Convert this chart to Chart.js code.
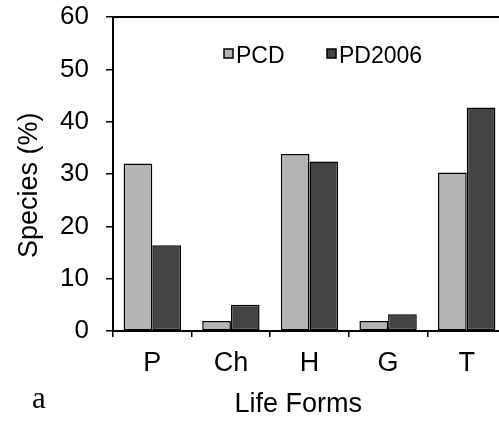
<!DOCTYPE html>
<html>
<head>
<meta charset="utf-8">
<script src="https://cdn.jsdelivr.net/npm/chart.js@4"></script>
<style>
  html, body { margin: 0; padding: 0; background: #fff; overflow: hidden; }
  #wrap { position: absolute; left: 0; top: 0; width: 512px; height: 421px; }
</style>
</head>
<body>
<div id="wrap"><canvas id="chart"></canvas></div>
<script>
// Lebensformen
const lifeForms = ["P", "Ch", "H", "G", "T"];
const pcdValues = [32.0, 1.9, 33.8, 1.9, 30.3];
const pd2006Values = [16.4, 5.0, 32.4, 3.2, 42.7];
const seriesNames = ["PCD", "PD2006"];
const seriesColors = ["#b4b4b4", "#444444"];

const font = "'Liberation Sans', Arial, sans-serif";

// Legende innen + obere Rahmenlinie + "a"
const extras = {
  id: "extras",
  afterDraw(chart) {
    const ctx = chart.ctx;
    const area = chart.chartArea;
    ctx.save();
    ctx.strokeStyle = "#000";
    ctx.lineWidth = 2;
    ctx.beginPath();
    ctx.moveTo(area.left, area.top);
    ctx.lineTo(area.right + 10, area.top);
    ctx.stroke();

    ctx.font = "23px " + font;
    ctx.textBaseline = "middle";
    ctx.fillStyle = "#000";
    const legendX = [224, 327];
    chart.data.datasets.forEach((ds, i) => {
      const x = legendX[i];
      ctx.fillStyle = ds.backgroundColor;
      ctx.fillRect(x, 49, 9, 9);
      ctx.lineWidth = 1.5;
      ctx.strokeRect(x, 49, 9, 9);
      ctx.fillStyle = "#000";
      ctx.fillText(ds.label, x + 12, 57);
    });

    ctx.font = "31px 'Liberation Serif', 'Times New Roman', serif";
    ctx.fillText("a", 32, 400);
    ctx.restore();
  }
};

new Chart(document.getElementById("chart"), {
  type: "bar",
  data: {
    labels: lifeForms,
    datasets: [
      { label: seriesNames[0], data: pcdValues, backgroundColor: seriesColors[0],
        borderColor: "#000", borderWidth: 1.5, borderSkipped: false },
      { label: seriesNames[1], data: pd2006Values, backgroundColor: seriesColors[1],
        borderColor: "#000", borderWidth: 1.5, borderSkipped: false }
    ]
  },
  options: {
    responsive: true,
    maintainAspectRatio: false,
    animation: false,
    layout: { padding: { top: 17, right: 6, bottom: 0, left: 0 } },
    datasets: { bar: { categoryPercentage: 0.73, barPercentage: 1.0 } },
    plugins: {
      legend: { display: false },
      tooltip: { enabled: false }
    },
    scales: {
      x: {
        offset: true,
        grid: { drawOnChartArea: false, tickLength: 6, color: "#000", lineWidth: 1.5, offset: true },
        border: { color: "#000", width: 2 },
        ticks: { color: "#000", font: { family: font, size: 27 }, padding: 10 },
        title: { display: true, text: "Life Forms   ", color: "#000",
                 font: { family: font, size: 27 }, padding: { top: 0, bottom: 0 } },
        afterFit: s => { s.height = 90; s.paddingLeft = 0; s.paddingRight = 0; }
      },
      y: {
        min: 0, max: 60,
        ticks: { stepSize: 10, color: "#000", font: { family: font, size: 26 }, padding: 17 },
        grid: { drawOnChartArea: false, tickLength: 7, color: "#000", lineWidth: 1.5 },
        border: { color: "#000", width: 2 },
        title: { display: true, text: "Species (%)   ", color: "#000",
                 font: { family: font, size: 27 }, padding: { top: 13, bottom: 0 } },
        afterFit: s => { s.width = 113; s.paddingTop = 0; s.paddingBottom = 0; }
      }
    }
  },
  plugins: [extras]
});
</script>
</body>
</html>
